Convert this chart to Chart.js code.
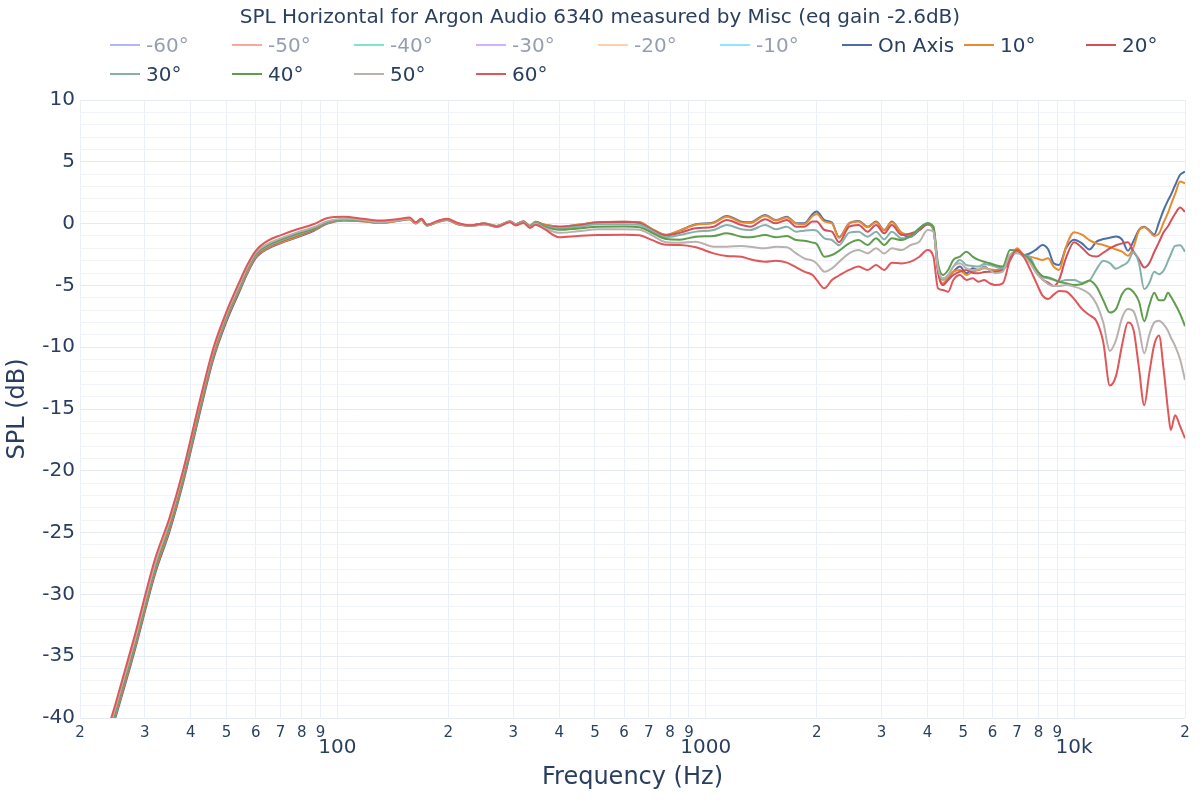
<!DOCTYPE html>
<html lang="en">
<head>
  <meta charset="UTF-8" />
  <title>SPL Horizontal</title>
  <script src="https://cdn.jsdelivr.net/npm/chart.js@4"></script>
  <style>
    body {
      margin: 0;
      padding: 0;
      background: #fff;
      font-family: "DejaVu Sans", Verdana, sans-serif;
      color: #2a3f5f;
    }

    #wrap {
      position: relative;
      width: 1200px;
      height: 800px;
    }

    #title {
      position: absolute;
      top: 4px;
      left: 0;
      width: 1200px;
      text-align: center;
      font-size: 20px;
      line-height: 24px;
    }

    #legend {
      position: absolute;
      left: 110px;
      top: 33px;
      display: grid;
      grid-template-columns: repeat(9, 122px);
      row-gap: 5px;
    }

    .item {
      display: flex;
      align-items: center;
      height: 24px;
      font-size: 20px;
      white-space: nowrap;
      cursor: pointer;
    }

    .item .swatch {
      width: 30px;
      height: 2px;
      margin-right: 6px;
    }

    .item.off {
      opacity: 0.5;
    }
  </style>
</head>
<body>
  <div id="wrap">
    <canvas id="splChart" width="1200" height="800"></canvas>
    <div id="title">SPL Horizontal for Argon Audio 6340 measured by Misc (eq gain -2.6dB)</div>
    <div id="legend"></div>
  </div>

  <script>
    // frequencies (Hz) shared by all curves
    const freqs = [20, 25, 28, 32, 35, 38, 42, 46, 50, 54, 57, 60, 65, 70, 77, 86, 94, 104, 117, 130,
      145, 157, 163, 169, 175, 186, 198, 212, 229, 250, 271, 294, 305, 320, 333, 345, 365,
      400, 450, 510, 600, 660, 710, 780, 850, 940, 1050, 1140, 1250, 1320, 1450, 1550, 1660, 1760, 1850,
      1950, 2000, 2100, 2200, 2300, 2450, 2600, 2750, 2900, 3050, 3200, 3400, 3600, 3800, 4000, 4150,
      4270, 4400, 4550, 4700, 4900, 5100, 5300, 5500, 5700, 5900, 6100, 6400, 6700, 7000, 7300, 7600,
      7900, 8200, 8500, 8800, 9100, 9500, 10000, 10500, 11000, 11500, 12000, 12500, 13000, 13500, 14000,
      14500, 15000, 15500, 16000, 16500, 17000, 17500, 18000, 18300, 18800, 19400, 20000];

    const onAxis = [-49.5, -39.9, -34.8, -28.3, -24.9, -21.1, -15.7, -11.0, -7.9, -5.6, -4.0, -2.8, -2.0, -1.6, -1.15, -0.6, 0.0, 0.25, 0.2, 0.05,
      0.2, 0.35, 0.0, 0.3, -0.15, 0.1, 0.3, -0.05, -0.15, -0.05, -0.2, 0.15, -0.05, 0.15, -0.2, 0.1, -0.1,
      -0.25, -0.1, 0.1, 0.15, 0.1, -0.4, -0.92, -0.57, -0.06, 0.1, 0.61, 0.16, 0.1, 0.7, 0.29, 0.56, 0.02, 0.02,
      0.78, 0.97, 0.29, 0.08, -1.1, 0.02, 0.21, -0.25, 0.16, -0.52, 0.16, -0.79, -1.06, -0.52, -0.06, -0.38,
      -3.75, -4.97, -4.43, -3.89, -3.48, -4.02, -3.62, -3.75, -3.48, -3.75, -3.89, -3.75, -2.67, -2.13, -2.54, -2.4,
      -2.08, -1.73, -2.08, -3.21, -3.35, -2.0, -1.3, -1.6, -2.1, -1.46, -1.25, -1.15, -1.05, -1.3, -2.2,
      -1.4, -0.5, -0.25, -0.55, -0.9, 0.1, 1.1, 1.9, 2.3, 3.1, 3.95, 4.2];

    const deg10 = [-49.3, -39.7, -34.6, -28.1, -24.7, -20.9, -15.5, -10.8, -7.7, -5.45, -3.9, -2.7, -1.95, -1.55, -1.1, -0.55, 0.05, 0.25, 0.2, 0.05,
      0.2, 0.35, 0.0, 0.3, -0.15, 0.1, 0.3, -0.05, -0.15, 0.0, -0.2, 0.15, -0.05, 0.2, -0.2, 0.15, -0.1,
      -0.25, -0.1, 0.12, 0.15, 0.1, -0.4, -0.9, -0.55, -0.1, 0.05, 0.56, 0.1, 0.05, 0.64, 0.25, 0.5, 0.0, -0.05,
      0.61, 0.78, 0.16, 0.02, -1.15, 0.0, 0.16, -0.3, 0.1, -0.55, 0.1, -0.73, -0.92, -0.45, -0.06, -0.4,
      -3.7, -4.83, -4.3, -3.89, -3.75, -4.16, -3.89, -3.75, -3.62, -3.7, -3.75, -3.62, -2.94, -2.0, -2.54, -2.67,
      -2.81, -2.94, -2.81, -3.48, -3.75, -1.9, -0.7, -0.9, -1.33, -1.6, -1.73, -1.9, -2.1, -2.27, -2.6,
      -1.9, -0.55, -0.3, -0.6, -1.0, -0.8, 0.1, 0.9, 1.5, 2.4, 3.4, 3.25];

    const deg20 = [-49.1, -39.5, -34.4, -27.9, -24.5, -20.7, -15.3, -10.6, -7.55, -5.3, -3.75, -2.6, -1.85, -1.45, -1.0, -0.5, 0.1, 0.3, 0.25, 0.1,
      0.25, 0.4, 0.05, 0.35, -0.1, 0.15, 0.35, 0.0, -0.15, 0.0, -0.2, 0.2, -0.05, 0.2, -0.2, 0.15, -0.15,
      -0.28, -0.15, 0.08, 0.12, 0.05, -0.45, -0.95, -0.75, -0.38, -0.25, 0.29, -0.11, -0.25, 0.35, 0.02, 0.29, -0.25, -0.25,
      0.16, 0.16, -0.52, -0.65, -1.5, -0.25, -0.11, -0.65, -0.11, -0.79, -0.11, -0.92, -0.79, -0.52, -0.06, -0.52,
      -3.9, -4.97, -4.56, -4.16, -3.89, -3.75, -3.97, -4.02, -3.92, -3.89, -3.89, -3.75, -2.94, -2.13, -2.67, -3.08,
      -3.75, -4.5, -4.78, -5.05, -4.56, -2.8, -1.5, -1.95, -2.54, -2.67, -2.35, -2.0, -1.75, -1.6, -1.5,
      -2.27, -2.9, -3.55, -3.2, -2.3, -1.5, -0.7, -0.2, 0.2, 0.8, 1.3, 0.95];

    const deg30 = [-49.0, -39.4, -34.3, -27.8, -24.4, -20.6, -15.2, -10.5, -7.5, -5.25, -3.7, -2.55, -1.8, -1.4, -0.95, -0.45, 0.1, 0.3, 0.25, 0.1,
      0.25, 0.4, 0.05, 0.35, -0.15, 0.15, 0.35, 0.0, -0.15, 0.0, -0.2, 0.2, -0.05, 0.2, -0.2, 0.1, -0.2,
      -0.38, -0.25, -0.06, -0.05, -0.1, -0.55, -1.1, -0.92, -0.65, -0.52, -0.11, -0.46, -0.52, -0.11, -0.46, -0.25, -0.65, -0.57,
      -0.52, -0.57, -1.19, -1.33, -1.75, -0.73, -0.65, -1.06, -0.65, -1.27, -0.65, -1.19, -1.06, -0.38, 0.02, -0.5,
      -3.48, -4.56, -4.16, -3.48, -2.94, -3.35, -3.43, -3.48, -3.27, -3.35, -3.48, -3.62, -2.54, -2.27, -2.54, -2.73,
      -3.75, -4.29, -4.43, -4.56, -4.7, -4.56, -4.56, -4.78, -4.62, -3.7, -3.0, -3.2, -3.65, -3.4, -3.1,
      -2.3, -3.21, -5.3, -4.8, -3.9, -4.1, -3.8, -3.0, -2.5, -1.8, -1.75, -2.27];

    const deg40 = [-48.9, -39.3, -34.2, -27.7, -24.3, -20.5, -15.1, -10.4, -7.4, -5.15, -3.6, -2.45, -1.7, -1.3, -0.85, -0.4, 0.15, 0.35, 0.25, 0.1,
      0.25, 0.4, 0.05, 0.35, -0.15, 0.15, 0.35, 0.0, -0.2, -0.05, -0.25, 0.15, -0.1, 0.15, -0.25, 0.05, -0.25,
      -0.5, -0.4, -0.25, -0.24, -0.3, -0.7, -1.25, -1.3, -1.06, -1.0, -0.79, -1.06, -1.11, -0.92, -1.11, -1.0, -1.33, -1.38,
      -1.54, -1.65, -2.68, -2.54, -2.2, -1.6, -1.33, -1.73, -1.19, -1.73, -1.19, -1.33, -1.0, -0.38, 0.02, -0.25,
      -3.21, -4.16, -3.75, -2.94, -2.67, -2.27, -2.67, -2.94, -3.08, -3.21, -3.35, -3.48, -2.13, -2.19, -2.54, -2.94,
      -3.75, -4.24, -4.35, -4.51, -4.7, -4.83, -4.97, -4.89, -4.6, -5.1, -6.2, -7.2, -6.9, -5.7, -5.25,
      -5.55, -6.3, -7.9, -6.6, -5.6, -6.2, -6.2, -5.6, -5.9, -6.5, -7.3, -8.3];

    const deg50 = [-48.8, -39.1, -34.0, -27.5, -24.1, -20.3, -14.9, -10.3, -7.3, -5.05, -3.5, -2.35, -1.6, -1.2, -0.75, -0.3, 0.2, 0.4, 0.3, 0.1,
      0.25, 0.4, 0.05, 0.35, -0.15, 0.15, 0.35, 0.0, -0.2, -0.05, -0.25, 0.15, -0.1, 0.1, -0.3, 0.0, -0.35,
      -0.75, -0.62, -0.46, -0.46, -0.5, -0.9, -1.5, -1.54, -1.46, -1.87, -1.87, -1.81, -1.87, -2.0, -1.87, -1.92, -2.41, -2.81,
      -3.0, -3.22, -3.89, -3.62, -3.1, -2.41, -2.14, -2.41, -2.0, -2.41, -2.0, -2.14, -1.73, -1.46, -0.52, -0.65,
      -3.6, -4.43, -4.16, -3.48, -3.21, -3.62, -3.75, -3.7, -3.54, -3.75, -4.02, -3.89, -2.54, -2.4, -2.67, -3.21,
      -4.02, -4.51, -4.89, -5.05, -5.05, -4.97, -5.1, -5.32, -5.7, -6.5, -8.0, -10.3, -9.4, -7.6, -6.9,
      -7.1, -8.5, -10.5, -9.0, -8.0, -7.85, -8.15, -8.7, -9.2, -9.9, -11.0, -12.65];

    const deg60 = [-48.5, -38.8, -33.6, -27.1, -23.8, -20.1, -14.7, -10.1, -7.1, -4.8, -3.3, -2.2, -1.35, -0.95, -0.5, -0.05, 0.45, 0.55, 0.4, 0.25,
      0.35, 0.5, 0.1, 0.4, -0.1, 0.2, 0.4, 0.05, -0.15, 0.0, -0.25, 0.1, -0.15, 0.05, -0.35, -0.1, -0.45,
      -1.1, -1.0, -0.92, -0.9, -0.95, -1.3, -1.72, -1.73, -1.92, -2.41, -2.62, -2.68, -2.89, -3.08, -3.0, -3.16, -3.54, -3.89,
      -4.16, -4.56, -5.24, -4.56, -4.2, -3.75, -3.48, -3.75, -3.35, -3.75, -3.16, -3.22, -3.08, -2.68, -2.14, -2.68,
      -5.24, -5.37, -5.51, -4.56, -4.16, -4.56, -4.43, -4.7, -4.56, -4.83, -4.97, -4.83, -2.94, -2.13, -2.7, -3.7,
      -4.8, -5.8, -6.1, -5.75, -5.45, -5.5, -6.1, -6.9, -7.4, -7.9, -9.6, -13.1, -12.3, -9.8, -8.0,
      -8.6, -11.7, -14.7, -12.1, -9.8, -9.05, -11.8, -15.2, -16.7, -15.5, -16.4, -17.37];

    // legend order as in the original; negative angles are hidden (legend only)
    const seriesNames = ['-60°', '-50°', '-40°', '-30°', '-20°', '-10°', 'On Axis', '10°', '20°', '30°', '40°', '50°', '60°'];
    const seriesData = [deg60, deg50, deg40, deg30, deg20, deg10, onAxis, deg10, deg20, deg30, deg40, deg50, deg60];
    const seriesColors = ['#636efa', '#ef553b', '#00cc96', '#ab63fa', '#ffa15a', '#19d3f3',
      '#4c6fa3', '#ea8a2c', '#d1505a', '#86b0aa', '#5f9d4c', '#b9b1ad', '#e05659'];
    const seriesHidden = [true, true, true, true, true, true, false, false, false, false, false, false, false];

    const xTickValues = [20, 30, 40, 50, 60, 70, 80, 90, 100, 200, 300, 400, 500, 600, 700, 800, 900,
      1000, 2000, 3000, 4000, 5000, 6000, 7000, 8000, 9000, 10000, 20000];
    const xTickLabels = ['2', '3', '4', '5', '6', '7', '8', '9', '100', '2', '3', '4', '5', '6', '7', '8', '9',
      '1000', '2', '3', '4', '5', '6', '7', '8', '9', '10k', '2'];
    const xMajor = [100, 1000, 10000];

    const FONT = '"DejaVu Sans", Verdana, sans-serif';
    const TEXT = '#2a3f5f';

    const datasets = seriesNames.map((name, i) => ({
      label: name,
      data: freqs.map((f, j) => ({ x: f, y: seriesData[i][j] })),
      borderColor: seriesColors[i],
      backgroundColor: seriesColors[i],
      borderWidth: 2,
      pointRadius: 0,
      cubicInterpolationMode: 'monotone',
      hidden: seriesHidden[i],
      order: 20 - i
    }));

    const ctx = document.getElementById('splChart').getContext('2d');
    const splChart = new Chart(ctx, {
      type: 'line',
      data: { datasets },
      options: {
        responsive: false,
        animation: false,
        layout: { padding: { top: 100, right: 15, left: 0, bottom: 0 } },
        plugins: {
          legend: { display: false },
          title: { display: false },
          tooltip: { enabled: false }
        },
        scales: {
          x: {
            type: 'logarithmic',
            min: 20,
            max: 20000,
            afterBuildTicks: scale => {
              scale.ticks = xTickValues.map(v => ({ value: v }));
            },
            afterFit: scale => { scale.height = 82; },
            border: { display: false },
            grid: { color: '#ebf0f8', drawTicks: false },
            ticks: {
              autoSkip: false,
              maxRotation: 0,
              padding: 6,
              color: TEXT,
              font: c => xMajor.includes(c.tick && c.tick.value)
                ? { family: FONT, size: 20, lineHeight: 0.8 }
                : { family: FONT, size: 15, lineHeight: 1.2 },
              callback: (value) => {
                const k = xTickValues.indexOf(value);
                if (k < 0) return '';
                return xMajor.includes(value) ? ['', xTickLabels[k]] : xTickLabels[k];
              }
            },
            title: {
              display: true,
              text: 'Frequency (Hz)',
              color: TEXT,
              font: { family: FONT, size: 24 },
              padding: { bottom: 8 }
            }
          },
          y: {
            min: -40,
            max: 10,
            afterFit: scale => { scale.width = 80; },
            border: { display: false },
            grid: {
              color: c => (c.tick && c.tick.value % 5 === 0) ? '#e6ebf3' : '#f0f3f8',
              drawTicks: false
            },
            ticks: {
              stepSize: 1,
              autoSkip: false,
              padding: 5,
              color: TEXT,
              font: { family: FONT, size: 20 },
              callback: v => (v % 5 === 0 ? String(v) : '')
            },
            title: {
              display: true,
              text: 'SPL (dB)',
              color: TEXT,
              font: { family: FONT, size: 24 },
              padding: { top: 3 }
            }
          }
        }
      }
    });

    // html legend, fixed column width like the original
    const legendBox = document.getElementById('legend');
    seriesNames.forEach((name, i) => {
      const item = document.createElement('div');
      item.className = 'item' + (seriesHidden[i] ? ' off' : '');
      const sw = document.createElement('span');
      sw.className = 'swatch';
      sw.style.background = seriesColors[i];
      const txt = document.createElement('span');
      txt.textContent = name;
      item.appendChild(sw);
      item.appendChild(txt);
      item.onclick = () => {
        const vis = !splChart.isDatasetVisible(i);
        splChart.setDatasetVisibility(i, vis);
        item.classList.toggle('off', !vis);
        splChart.update();
      };
      legendBox.appendChild(item);
    });
  </script>
</body>
</html>
